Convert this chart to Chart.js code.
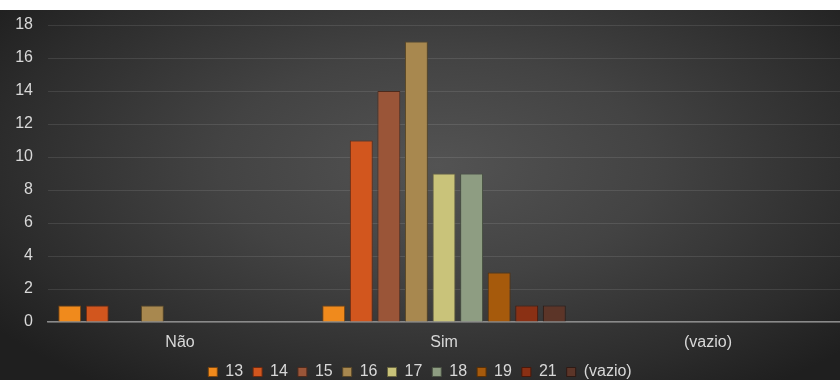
<!DOCTYPE html>
<html>
<head>
<meta charset="utf-8">
<script src="https://cdn.jsdelivr.net/npm/chart.js@4"></script>
<style>
  html, body { margin: 0; padding: 0; background: #fff; }
  #wrap {
    position: absolute; left: 0; top: 10px; width: 840px; height: 370px;
    background: radial-gradient(ellipse 65% 75% at 52% 42%, #535353 0%, #434343 40%, #2c2c2c 80%, #1f1f1f 100%);
  }
</style>
</head>
<body>
<div id="wrap"><canvas id="chart" width="840" height="370"></canvas></div>
<script>
// categorias e séries (idades)
const categorias = ['Não', 'Sim', '(vazio)'];
const series = ['13', '14', '15', '16', '17', '18', '19', '21', '(vazio)'];
const v13 = [1, 1, 0];
const v14 = [1, 11, 0];
const v15 = [0, 14, 0];
const v16 = [1, 17, 0];
const v17 = [0, 9, 0];
const v18 = [0, 9, 0];
const v19 = [0, 3, 0];
const v21 = [0, 1, 0];
const vVazio = [0, 1, 0];
const yTicks = [0, 2, 4, 6, 8, 10, 12, 14, 16, 18];

const valores = [v13, v14, v15, v16, v17, v18, v19, v21, vVazio];
const cores = ['#f08a1c', '#d2561e', '#9a5538', '#a8884f', '#c9c37a', '#8e9d82', '#a65a0c', '#8a3014', '#5c3528'];
const bordas = ['#7a4510', '#6e2a10', '#4e2a1c', '#5a4828', '#6a6640', '#4a5244', '#5a3006', '#4a180a', '#2e1a14'];

const datasets = series.map((nome, i) => ({
    label: nome,
    data: valores[i],
    backgroundColor: cores[i],
    borderColor: bordas[i],
    borderWidth: 1,
    categoryPercentage: 0.94,
    barPercentage: 0.83
}));

new Chart(document.getElementById('chart'), {
    type: 'bar',
    data: { labels: categorias, datasets: datasets },
    options: {
        responsive: false,
        animation: false,
        layout: { padding: { top: 15, left: 0, right: 0, bottom: -10 } },
        scales: {
            x: {
                grid: { display: false },
                border: { color: '#8a8a8a', width: 1.5 },
                afterFit: axis => { axis.height = 32; },
                ticks: { color: '#d8d8d8', font: { size: 16, family: 'Liberation Sans' }, padding: 3 }
            },
            y: {
                min: 0,
                max: 18,
                afterBuildTicks: axis => { axis.ticks = yTicks.map(v => ({ value: v })); },
                afterFit: axis => { axis.width = 48; axis.paddingTop = 0; axis.paddingBottom = 0; },
                grid: { color: 'rgba(255,255,255,0.10)', drawTicks: false },
                border: { display: false },
                ticks: { color: '#d8d8d8', font: { size: 16, family: 'Liberation Sans' }, padding: 15 }
            }
        },
        plugins: {
            legend: {
                position: 'bottom',
                labels: {
                    color: '#d8d8d8',
                    font: { size: 16, family: 'Liberation Sans' },
                    boxWidth: 9,
                    boxHeight: 9,
                    padding: 10
                }
            },
            tooltip: { enabled: false }
        }
    }
});
</script>
</body>
</html>
